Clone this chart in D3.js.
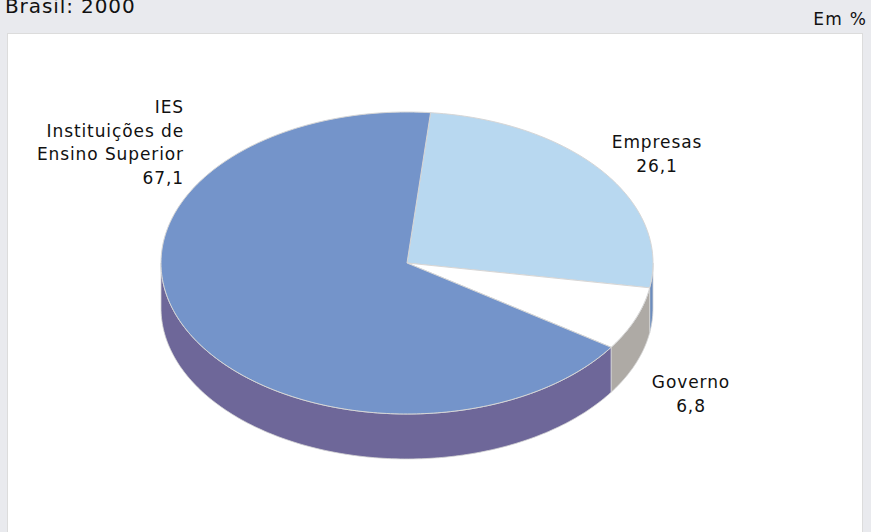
<!DOCTYPE html>
<html>
<head>
<meta charset="utf-8">
<script src="https://cdn.jsdelivr.net/npm/d3@7"></script>
<style>
  html, body { margin: 0; padding: 0; background: #e9eaee; }
  svg { display: block; }
</style>
</head>
<body>
<svg id="chart" width="871" height="532"></svg>
<script>
// Distribuição percentual por setor — Brasil: 2000
const categories = ["Empresas", "Governo", "IES"];
const labelLines = [["Empresas"], ["Governo"], ["IES", "Instituições de", "Ensino Superior"]];
const values = [26.1, 6.8, 67.1];
const topColors = ["#b8d8f0", "#ffffff", "#7494ca"];
const sideColors = ["#6c8cbd", "#aeaaa5", "#6e6799"];

const W = 871, H = 532;
const FONT = "DejaVu Sans, Verdana, sans-serif";
const svg = d3.select("#chart");

// background panel
svg.append("rect").attr("x", 7.5).attr("y", 33.5).attr("width", 855).attr("height", 510)
  .attr("fill", "#ffffff").attr("stroke", "#dcdcdc");

svg.append("text").attr("x", 5).attr("y", 13)
  .attr("font-family", FONT).attr("font-size", 20).attr("letter-spacing", 0.9)
  .attr("fill", "#111").text("Brasil: 2000");
svg.append("text").attr("x", 867).attr("y", 25).attr("text-anchor", "end")
  .attr("font-family", FONT).attr("font-size", 17).attr("letter-spacing", 1.2)
  .attr("fill", "#111").text("Em %");

// 3D pie geometry
const cx = 407, cy = 263, rx = 246, ry = 151, depth = 45;
const deg = Math.PI / 180;

const pie = d3.pie().sort(null).value(d => d).startAngle(5.5 * deg).endAngle(365.5 * deg);
const arcs = pie(values);

// angle measured clockwise from 12 o'clock
const pt = (a, dy = 0) => [cx + rx * Math.sin(a), cy - ry * Math.cos(a) + dy];

function topPath(a0, a1) {
  const n = Math.max(2, Math.ceil((a1 - a0) / (1 * deg)));
  const pts = d3.range(n + 1).map(i => pt(a0 + (a1 - a0) * i / n));
  return "M" + cx + "," + cy + "L" + pts.map(p => p.join(",")).join("L") + "Z";
}
function sidePath(a0, a1) {
  const n = Math.max(2, Math.ceil((a1 - a0) / (1 * deg)));
  const upper = d3.range(n + 1).map(i => pt(a0 + (a1 - a0) * i / n));
  const lower = d3.range(n + 1).map(i => pt(a1 - (a1 - a0) * i / n, depth));
  return "M" + upper.concat(lower).map(p => p.join(",")).join("L") + "Z";
}

const g = svg.append("g");

// outer walls: only the front half (90°..270°) is visible
arcs.forEach((d, i) => {
  const a0 = Math.max(d.startAngle, 90 * deg);
  const a1 = Math.min(d.endAngle, 270 * deg);
  if (a1 > a0) {
    g.append("path").attr("d", sidePath(a0, a1))
      .attr("fill", sideColors[i]).attr("stroke", "#d6d6d6").attr("stroke-width", 0.8);
  }
});

// top faces
arcs.forEach((d, i) => {
  g.append("path").attr("d", topPath(d.startAngle, d.endAngle))
    .attr("fill", topColors[i]).attr("stroke", "#d6d6d6").attr("stroke-width", 1);
});

// labels
const labelPos = [
  { x: 657, y: 148, anchor: "middle" },
  { x: 691, y: 388, anchor: "middle" },
  { x: 184, y: 113, anchor: "end" }
];
const fmt = v => v.toFixed(1).replace(".", ",");
arcs.forEach((d, i) => {
  const lines = labelLines[i].concat([fmt(values[i])]);
  const t = svg.append("text")
    .attr("font-family", FONT).attr("font-size", 17).attr("letter-spacing", 0.9)
    .attr("fill", "#111").attr("text-anchor", labelPos[i].anchor);
  lines.forEach((s, k) => {
    t.append("tspan").attr("x", labelPos[i].x).attr("y", labelPos[i].y + k * 23.5).text(s);
  });
});
</script>
</body>
</html>
